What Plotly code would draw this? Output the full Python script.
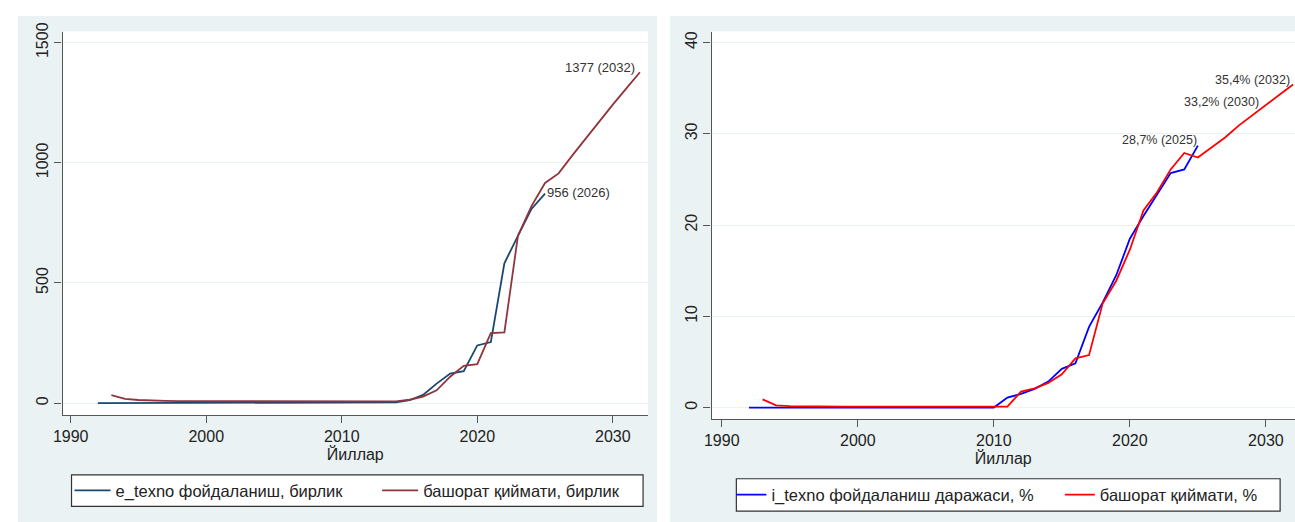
import plotly.graph_objects as go

W, H = 1295, 522

# ---------------- data ----------------
years_obs = list(range(1992, 2026))
years_fc = list(range(1993, 2033))

# left panel: e_texno usage, units
e_texno = [0, 0, 0, 0, 0, 0, 0, 0, 0, 0,
           0, 0, 0, 0, 0, 0, 0, 0, 0, 0,
           0, 0, 3, 12, 34, 81, 123, 133, 240, 254,
           582, 696, 808, 872]
e_forecast = [33, 18, 13, 10, 9, 8, 8, 8, 8, 8,
              8, 8, 8, 8, 8, 8, 8, 8, 8, 8,
              8, 7, 14, 27, 53, 110, 155, 162, 291, 294,
              696, 820, 916, 956, 1030, 1102, 1172, 1242, 1310, 1377]

# right panel: i_texno usage level, %
i_texno = [0, 0, 0, 0, 0, 0, 0, 0, 0, 0,
           0, 0, 0, 0, 0, 0, 0, 0, 0, 1.1,
           1.5, 2.05, 2.85, 4.25, 4.85, 8.85, 11.5, 14.5, 18.5, 21.0,
           23.3, 25.7, 26.1, 28.7]
i_forecast = [0.9, 0.25, 0.15, 0.12, 0.1, 0.1, 0.1, 0.1, 0.1, 0.1,
              0.1, 0.1, 0.1, 0.1, 0.1, 0.1, 0.1, 0.1, 0.1, 1.75,
              2.1, 2.7, 3.65, 5.4, 5.75, 11.4, 13.9, 17.3, 21.6, 23.6,
              26.1, 27.9, 27.4, 28.5, 29.6, 30.9, 32.0, 33.2, 34.3, 35.4]

x_ticks = [1990, 2000, 2010, 2020, 2030]
y_ticks_left = [0, 500, 1000, 1500]
y_ticks_right = [0, 10, 20, 30, 40]

names = ["e_texno фойдаланиш, бирлик", "башорат қиймати, бирлик",
         "i_texno фойдаланиш даражаси, %", "башорат қиймати, %"]
x_title = "Йиллар"

# ---------------- style ----------------
FONT = "Liberation Sans, Arial, sans-serif"
PANEL = "#EAF2F3"
GRID = "#EAF2F3"
AXIS = "#555555"
TXT = "#222222"
NAVY, MAROON = "#1A476F", "#90353B"
BLUE, RED = "#0000FF", "#FF0000"

fig = go.Figure()
fig.add_trace(go.Scatter(x=years_obs, y=e_texno, mode="lines", name=names[0],
                         line=dict(color=NAVY, width=1.8), xaxis="x", yaxis="y", legend="legend"))
fig.add_trace(go.Scatter(x=years_fc, y=e_forecast, mode="lines", name=names[1],
                         line=dict(color=MAROON, width=1.8), xaxis="x", yaxis="y", legend="legend2"))
fig.add_trace(go.Scatter(x=years_obs, y=i_texno, mode="lines", name=names[2],
                         line=dict(color=BLUE, width=1.8), xaxis="x2", yaxis="y2", legend="legend3"))
fig.add_trace(go.Scatter(x=years_fc, y=i_forecast, mode="lines", name=names[3],
                         line=dict(color=RED, width=1.8), xaxis="x2", yaxis="y2", legend="legend4"))

def xax(domain, rng, anchor):
    return dict(domain=domain, range=rng, anchor=anchor, tickvals=x_ticks,
                ticks="outside", ticklen=7, tickwidth=1.2, tickcolor=AXIS,
                showline=True, linecolor=AXIS, linewidth=1.3, showgrid=False,
                zeroline=False, tickfont=dict(family=FONT, size=16, color=TXT),
                title=dict(text=x_title, font=dict(family=FONT, size=16, color=TXT), standoff=0),
                fixedrange=True)

def yax(domain, rng, anchor, tv):
    return dict(domain=domain, range=rng, anchor=anchor, tickvals=tv, tickangle=-90,
                ticks="outside", ticklen=7, tickwidth=1.2, tickcolor=AXIS,
                showline=True, linecolor=AXIS, linewidth=1.3, showgrid=True,
                gridcolor=GRID, gridwidth=1.2, zeroline=False,
                tickfont=dict(family=FONT, size=16, color=TXT), fixedrange=True)

L_dom_x = [53 / W, 643 / W]
L_dom_y = [1 - 413 / H, 1 - 23 / H]
R_dom_x = [707 / W, 1.0]
R_dom_y = [1 - 417 / H, 1 - 23 / H]

def leg(xpx, ypx, iw):
    return dict(x=xpx / W, y=1 - ypx / H, xanchor="left", yanchor="middle",
                orientation="h", bgcolor="rgba(0,0,0,0)", borderwidth=0,
                font=dict(family=FONT, size=16.5, color=TXT), itemwidth=iw)

shapes = [
    dict(type="rect", xref="paper", yref="paper", x0=8 / W, x1=652 / W, y0=0, y1=1 - 7 / H,
         fillcolor=PANEL, line=dict(width=0), layer="below"),
    dict(type="rect", xref="paper", yref="paper", x0=665 / W, x1=1.0, y0=0, y1=1 - 7 / H,
         fillcolor=PANEL, line=dict(width=0), layer="below"),
    dict(type="rect", xref="paper", yref="paper", x0=L_dom_x[0], x1=L_dom_x[1], y0=L_dom_y[0], y1=L_dom_y[1],
         fillcolor="white", line=dict(width=0), layer="below"),
    dict(type="rect", xref="paper", yref="paper", x0=R_dom_x[0], x1=R_dom_x[1], y0=R_dom_y[0], y1=R_dom_y[1],
         fillcolor="white", line=dict(width=0), layer="below"),
    dict(type="rect", xref="paper", yref="paper", x0=62 / W, x1=638 / W, y0=1 - 506 / H, y1=1 - 474 / H,
         fillcolor="white", line=dict(width=1.2, color="#333333"), layer="below"),
    dict(type="rect", xref="paper", yref="paper", x0=732 / W, x1=1280 / W, y0=1 - 511 / H, y1=1 - 478 / H,
         fillcolor="white", line=dict(width=1.2, color="#333333"), layer="below"),
]

ann_font_l = dict(family=FONT, size=13, color="#333333")
ann_font_r = dict(family=FONT, size=12.5, color="#333333")
annotations = [
    dict(x=years_obs[-1], y=e_texno[-1], xref="x", yref="y", text="956 (2026)", showarrow=False,
         xanchor="left", yanchor="middle", xshift=0, yshift=1, font=ann_font_l),
    dict(x=years_fc[-1], y=e_forecast[-1], xref="x", yref="y", text="1377 (2032)", showarrow=False,
         xanchor="right", yanchor="middle", xshift=-3, yshift=5, font=ann_font_l),
    dict(x=years_obs[-1], y=i_texno[-1], xref="x2", yref="y2", text="28,7% (2025)", showarrow=False,
         xanchor="right", yanchor="middle", xshift=1, yshift=6, font=ann_font_r),
    dict(x=2030, y=i_forecast[years_fc.index(2030)], xref="x2", yref="y2", text="33,2% (2030)", showarrow=False,
         xanchor="right", yanchor="middle", xshift=-5, yshift=3, font=ann_font_r),
    dict(x=years_fc[-1], y=i_forecast[-1], xref="x2", yref="y2", text="35,4% (2032)", showarrow=False,
         xanchor="right", yanchor="middle", xshift=-1, yshift=5, font=ann_font_r),
]

fig.update_layout(
    width=W, height=H, margin=dict(l=0, r=0, t=0, b=0),
    paper_bgcolor="white", plot_bgcolor="rgba(0,0,0,0)",
    font=dict(family=FONT, color=TXT),
    xaxis=xax(L_dom_x, [1989.4, 2032.6], "y"),
    yaxis=yax(L_dom_y, [-49, 1546], "x", y_ticks_left),
    xaxis2=xax(R_dom_x, [1989.25, 2032.14], "y2"),
    yaxis2=yax(R_dom_y, [-1.23, 41.2], "x2", y_ticks_right),
    legend=leg(60, 490, 36),
    legend2=leg(370, 490, 36),
    legend3=leg(727, 494.5, 30),
    legend4=leg(1058, 494.5, 30),
    shapes=shapes,
    annotations=annotations,
    showlegend=True,
)

fig.write_html(
    "out.html",
    config={"displayModeBar": False, "responsive": False},
    post_script=["document.documentElement.style.margin='0';document.documentElement.style.padding='0';"
                 "document.documentElement.style.overflow='hidden';"
                 "document.body.style.margin='0';document.body.style.padding='0';"
                 "document.body.style.overflow='hidden';"
                 "var gd=document.getElementById('{plot_id}');"
                 "gd.style.position='fixed';gd.style.top='0px';gd.style.left='0px';"],
)
